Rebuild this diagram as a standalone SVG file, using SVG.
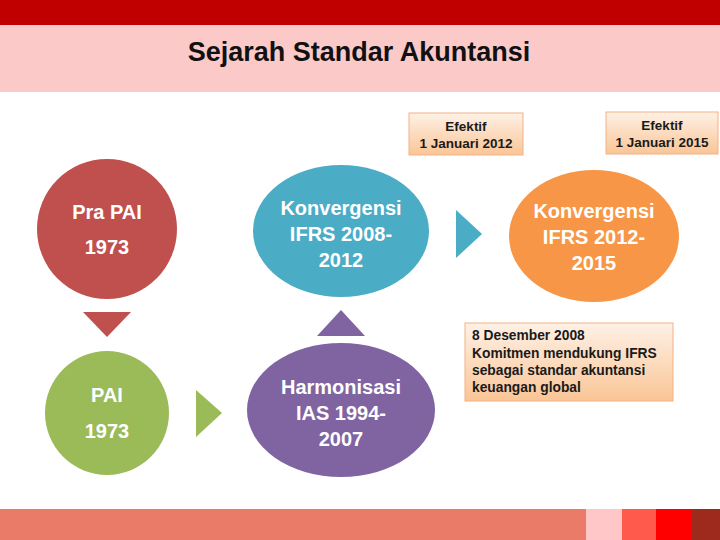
<svg xmlns="http://www.w3.org/2000/svg" width="720" height="540" viewBox="0 0 720 540">
<defs>
<linearGradient id="peach" x1="0" y1="0" x2="0" y2="1">
<stop offset="0" stop-color="#FEF1E6"/>
<stop offset="1" stop-color="#FAC596"/>
</linearGradient>
<style>
.nt{font-family:"Liberation Sans",Arial,sans-serif;font-weight:bold;font-size:20px;fill:#FFFFFF;text-anchor:middle}
.bt{font-family:"Liberation Sans",Arial,sans-serif;font-weight:bold;font-size:13.5px;fill:#1a1a1a;text-anchor:middle}
.lt{font-family:"Liberation Sans",Arial,sans-serif;font-weight:bold;font-size:13.8px;fill:#1a1a1a;text-anchor:start}
.box{fill:url(#peach);stroke:#F4B183;stroke-width:1}
</style>
</defs>
<rect x="0" y="0" width="720" height="540" fill="#FFFFFF"/>
<rect x="0" y="0" width="720" height="25" fill="#C00000"/>
<rect x="0" y="25" width="720" height="67" fill="#FCC9C9"/>
<text x="359" y="61" font-family="'Liberation Sans',Arial,sans-serif" font-weight="bold" font-size="27" fill="#111" text-anchor="middle">Sejarah Standar Akuntansi</text>

<g id="connectors">
<polygon points="83,312 131,312 107,337" fill="#C0504D"/>
<polygon points="317,336 365,336 341,310" fill="#8064A2"/>
<polygon points="196,390 196,437 222,413" fill="#9BBB59"/>
<polygon points="456,210 456,258 482,234" fill="#4BACC6"/>
</g>

<g id="pra-pai">
<circle cx="107" cy="229" r="70" fill="#C0504D"/>
<text class="nt" x="107" y="219">Pra PAI</text>
<text class="nt" x="107" y="254">1973</text>
</g>
<g id="pai">
<circle cx="107" cy="413" r="62" fill="#9BBB59"/>
<text class="nt" x="107" y="402">PAI</text>
<text class="nt" x="107" y="438">1973</text>
</g>
<g id="konvergensi-2008">
<ellipse cx="341" cy="231" rx="88" ry="66" fill="#4BACC6"/>
<text class="nt" x="341" y="215">Konvergensi</text>
<text class="nt" x="341" y="241">IFRS 2008-</text>
<text class="nt" x="341" y="267">2012</text>
</g>
<g id="harmonisasi">
<ellipse cx="341" cy="410" rx="94" ry="67" fill="#8064A2"/>
<text class="nt" x="341" y="394">Harmonisasi</text>
<text class="nt" x="341" y="420">IAS 1994-</text>
<text class="nt" x="341" y="446">2007</text>
</g>
<g id="konvergensi-2012">
<ellipse cx="594" cy="236" rx="85" ry="66" fill="#F79646"/>
<text class="nt" x="594" y="218">Konvergensi</text>
<text class="nt" x="594" y="244">IFRS 2012-</text>
<text class="nt" x="594" y="270">2015</text>
</g>

<g id="efektif-2012">
<rect class="box" x="409" y="113" width="114" height="42"/>
<text class="bt" x="466" y="131">Efektif</text>
<text class="bt" x="466" y="148">1 Januari 2012</text>
</g>
<g id="efektif-2015">
<rect class="box" x="606" y="112" width="112" height="42"/>
<text class="bt" x="662" y="130">Efektif</text>
<text class="bt" x="662" y="147">1 Januari 2015</text>
</g>
<g id="komitmen">
<rect class="box" x="465" y="323" width="208" height="78"/>
<text class="lt" x="472" y="340">8 Desember 2008</text>
<text class="lt" x="472" y="358">Komitmen mendukung IFRS</text>
<text class="lt" x="472" y="375">sebagai standar akuntansi</text>
<text class="lt" x="472" y="392">keuangan global</text>
</g>

<rect x="0" y="509" width="586" height="31" fill="#EB7B69"/>
<rect x="586" y="509" width="36" height="31" fill="#FFC7C7"/>
<rect x="622" y="509" width="34" height="31" fill="#FF5A4B"/>
<rect x="656" y="509" width="36" height="31" fill="#FF0000"/>
<rect x="692" y="509" width="28" height="31" fill="#9E2A1E"/>
</svg>
